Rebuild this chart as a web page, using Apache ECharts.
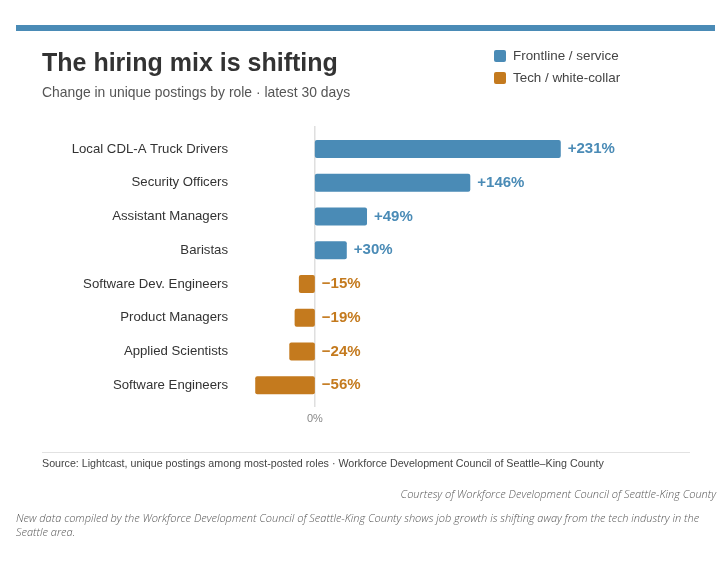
<!DOCTYPE html>
<html>
<head>
<meta charset="utf-8">
<script src="https://cdn.jsdelivr.net/npm/echarts@6/dist/echarts.min.js"></script>
<style>
  html, body { margin: 0; padding: 0; background: #fff; }
  #chart { width: 726px; height: 562px; }
</style>
</head>
<body>
<div id="chart"></div>
<script>
const roles = [
  'Local CDL-A Truck Drivers',
  'Security Officers',
  'Assistant Managers',
  'Baristas',
  'Software Dev. Engineers',
  'Product Managers',
  'Applied Scientists',
  'Software Engineers'
]
const changePct = [231, 146, 49, 30, -15, -19, -24, -56]
const groups = ['Frontline / service', 'Tech / white-collar']
const groupOf = [0, 0, 0, 0, 1, 1, 1, 1]
const colors = ['#4a8bb6', '#c47a1e']

const chart = echarts.init(document.getElementById('chart'), null, { renderer: 'canvas' })

const fontMain = 'Liberation Sans, Arial, sans-serif'
const fontNote = 'Open Sans, Lato, sans-serif'

const barData = changePct.map((v, i) => ({
  value: v,
  itemStyle: { color: colors[groupOf[i]], borderRadius: 2 },
  label: { color: colors[groupOf[i]] }
}))

// legend entries drawn as graphic blocks
const legendItems = []
groups.forEach((g, i) => {
  legendItems.push({
    type: 'rect', left: 494, top: 50 + i * 22,
    shape: { width: 12, height: 12, r: 2 },
    style: { fill: colors[i] }
  })
  legendItems.push({
    type: 'text', left: 513, top: 50 + i * 22,
    style: { text: g, font: '13.4px ' + fontMain, fill: '#444' }
  })
})

chart.setOption({
  backgroundColor: '#fff',
  animation: false,
  grid: { left: 235, top: 132, width: 346, height: 270, containLabel: false },
  xAxis: {
    type: 'value',
    min: -75,
    max: 250,
    interval: 25,
    splitLine: { show: false },
    axisLine: { show: false },
    axisTick: { show: false },
    axisLabel: {
      margin: 11,
      color: '#888',
      fontSize: 11,
      fontFamily: fontMain,
      formatter: v => (v === 0 ? '0%' : '')
    }
  },
  yAxis: {
    type: 'category',
    inverse: true,
    data: roles,
    axisLine: { show: false },
    axisTick: { show: false },
    axisLabel: { margin: 7, color: '#333', fontSize: 13.2, fontFamily: fontMain, padding: [3, 0, 0, 0] }
  },
  series: [{
    type: 'bar',
    data: barData,
    barWidth: 18,
    label: {
      show: true,
      position: 'right',
      distance: 7,
      fontSize: 15,
      fontWeight: 'bold',
      fontFamily: fontMain,
      padding: [3, 0, 0, 0],
      formatter: p => (p.value > 0 ? '+' + p.value + '%' : '\u2212' + Math.abs(p.value) + '%')
    }
  }],
  graphic: [
    { type: 'rect', left: 16, top: 25, shape: { width: 699, height: 6 }, style: { fill: '#4a8bb6' } },
    {
      type: 'text', left: 42, top: 52,
      style: { text: 'The hiring mix is shifting', font: 'bold 25px ' + fontMain, fill: '#333' }
    },
    {
      type: 'text', left: 42, top: 86,
      style: { text: 'Change in unique postings by role \u00b7 latest 30 days', font: '13.9px ' + fontMain, fill: '#555' }
    },
    ...legendItems,
    { type: 'rect', left: 42, top: 452, shape: { width: 648, height: 1 }, style: { fill: '#e2e2e2' } },
    {
      type: 'text', left: 42, top: 459,
      style: {
        text: 'Source: Lightcast, unique postings among most-posted roles \u00b7 Workforce Development Council of Seattle\u2013King County',
        font: '10.7px ' + fontMain, fill: '#444'
      }
    },
    {
      type: 'text', right: 10, top: 489,
      style: {
        text: 'Courtesy of Workforce Development Council of Seattle-King County',
        font: 'italic 300 11px ' + fontNote, fill: '#555'
      }
    },
    {
      type: 'text', left: 16, top: 512,
      style: {
        text: 'New data compiled by the Workforce Development Council of Seattle-King County shows job growth is shifting away from the tech industry in the\nSeattle area.',
        font: 'italic 300 11px ' + fontNote, fill: '#555', lineHeight: 14
      }
    }
  ]
})

// zero reference line, placed through the value axis scale
const zeroX = chart.convertToPixel({ xAxisIndex: 0 }, 0)
chart.setOption({
  graphic: [{
    id: 'zeroLine',
    type: 'line',
    shape: { x1: zeroX, y1: 126, x2: zeroX, y2: 407 },
    style: { stroke: '#cfcfcf', lineWidth: 1 },
    z: 0
  }]
})
</script>
</body>
</html>
